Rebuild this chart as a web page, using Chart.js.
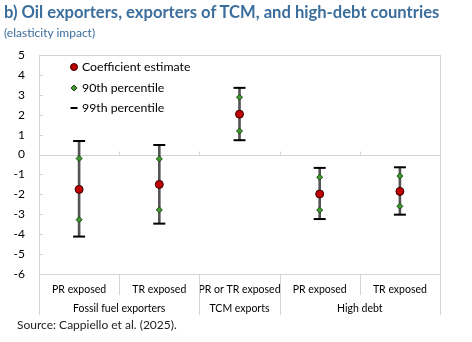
<!DOCTYPE html>
<html>
<head>
<meta charset="utf-8">
<script src="https://cdn.jsdelivr.net/npm/chart.js@4.4.1/dist/chart.umd.min.js"></script>
<style>
  body { margin: 0; background: #fff; font-family: Lato, 'Open Sans', sans-serif; }
  #wrap { position: relative; width: 472px; height: 342px; }
  #title { position: absolute; left: 4px; top: 2px; font-size: 16.6px; font-weight: bold; color: #3b6e9c; white-space: nowrap; }
  #subtitle { position: absolute; left: 4px; top: 25px; font-size: 12px; color: #3b6e9c; }
  #source { position: absolute; left: 17px; top: 317px; font-size: 12px; color: #222; }
</style>
</head>
<body>
<div id="wrap">
  <canvas id="chart"></canvas>
  <div id="title">b) Oil exporters, exporters of TCM, and high-debt countries</div>
  <div id="subtitle">(elasticity impact)</div>
  <div id="source">Source: Cappiello et al. (2025).</div>
</div>
<script>
// Categories and their groups
const categories = ['PR exposed', 'TR exposed', 'PR or TR exposed', 'PR exposed', 'TR exposed'];
const groupLabels = ['Fossil fuel exporters', 'TCM exports', 'High debt'];
const groupSizes = [2, 1, 2];

// Estimates with 90th and 99th percentile bands
const coefficient = [-1.75, -1.5, 2.03, -1.98, -1.85];
const p90Low = [-3.27, -2.78, 1.18, -2.79, -2.6];
const p90High = [-0.2, -0.22, 2.88, -1.14, -1.08];
const p99Low = [-4.12, -3.47, 0.72, -3.24, -3.02];
const p99High = [0.68, 0.48, 3.35, -0.67, -0.64];

const yTicks = [-6, -5, -4, -3, -2, -1, 0, 1, 2, 3, 4, 5];

const FONT = 'Lato, "Open Sans", sans-serif';
const frameColor = '#d4d4d4';

// Draws the frame, zero line, group labels and legend
const decorations = {
    id: 'decorations',
    beforeDatasetsDraw(chart) {
        const { ctx, chartArea: a, scales: { x, y } } = chart;
        ctx.save();
        ctx.strokeStyle = frameColor;
        ctx.lineWidth = 1;
        // plot frame
        ctx.strokeRect(a.left + 0.5, a.top + 0.5, a.right - a.left, a.bottom - a.top);
        // zero line
        const y0 = Math.round(y.getPixelForValue(0)) + 0.5;
        ctx.beginPath();
        ctx.moveTo(a.left, y0);
        ctx.lineTo(a.right, y0);
        ctx.stroke();
        // y tick marks, pointing inwards
        yTicks.forEach(v => {
            const py = Math.round(y.getPixelForValue(v)) + 0.5;
            ctx.beginPath();
            ctx.moveTo(a.left, py);
            ctx.lineTo(a.left + 4, py);
            ctx.stroke();
        });
        // category boundaries on the zero line
        const step = (a.right - a.left) / categories.length;
        for (let i = 1; i < categories.length; i++) {
            const px = Math.round(a.left + step * i) + 0.5;
            ctx.beginPath();
            ctx.moveTo(px, y0);
            ctx.lineTo(px, y0 - 4);
            ctx.stroke();
        }
        // separators below the plot
        let idx = 0;
        const bounds = [0];
        groupSizes.forEach(n => { idx += n; bounds.push(idx); });
        for (let i = 0; i <= categories.length; i++) {
            const px = Math.round(a.left + step * i) + 0.5;
            const full = bounds.includes(i);
            ctx.beginPath();
            ctx.moveTo(px, a.bottom);
            ctx.lineTo(px, a.bottom + (full ? 41 : 21));
            ctx.stroke();
        }
        // group labels
        ctx.fillStyle = '#000';
        ctx.font = '10.5px ' + FONT;
        ctx.textAlign = 'center';
        ctx.textBaseline = 'middle';
        let start = 0;
        groupLabels.forEach((label, g) => {
            const cx = a.left + step * (start + groupSizes[g] / 2);
            ctx.fillText(label, cx, a.bottom + 35);
            start += groupSizes[g];
        });
        ctx.restore();
    },
    afterDraw(chart) {
        const { ctx, chartArea: a } = chart;
        ctx.save();
        const lx = a.left + 35;
        const rows = [a.top + 12, a.top + 33, a.top + 53];
        // coefficient marker
        ctx.fillStyle = '#c00000';
        ctx.strokeStyle = '#3a0000';
        ctx.lineWidth = 1;
        ctx.beginPath();
        ctx.arc(lx, rows[0], 3.5, 0, Math.PI * 2);
        ctx.fill();
        ctx.stroke();
        // 90th percentile marker
        ctx.fillStyle = '#3f9b2f';
        ctx.strokeStyle = '#1d4a14';
        ctx.beginPath();
        ctx.moveTo(lx, rows[1] - 3);
        ctx.lineTo(lx + 3, rows[1]);
        ctx.lineTo(lx, rows[1] + 3);
        ctx.lineTo(lx - 3, rows[1]);
        ctx.closePath();
        ctx.fill();
        ctx.stroke();
        // 99th percentile marker
        ctx.strokeStyle = '#000';
        ctx.lineWidth = 2;
        ctx.beginPath();
        ctx.moveTo(lx - 3.5, rows[2]);
        ctx.lineTo(lx + 3.5, rows[2]);
        ctx.stroke();
        ctx.fillStyle = '#000';
        ctx.font = '12.3px ' + FONT;
        ctx.textBaseline = 'middle';
        ctx.fillText('Coefficient estimate', lx + 8, rows[0]);
        ctx.fillText('90th percentile', lx + 8, rows[1]);
        ctx.fillText('99th percentile', lx + 8, rows[2]);
        ctx.restore();
    }
};

const range99 = categories.map((c, i) => [p99Low[i], p99High[i]]);

const ctx = document.getElementById('chart').getContext('2d');
const chart = new Chart(ctx, {
    type: 'bar',
    data: {
        labels: categories,
        datasets: [
            {
                label: 'range',
                data: range99,
                backgroundColor: '#555555',
                barThickness: 2,
                order: 4,
            },
            {
                type: 'line',
                label: '99th percentile',
                data: p99Low,
                showLine: false,
                pointStyle: 'line',
                pointRadius: 6,
                pointBorderWidth: 2,
                pointBorderColor: '#000',
                order: 3,
            },
            {
                type: 'line',
                label: '99th percentile high',
                data: p99High,
                showLine: false,
                pointStyle: 'line',
                pointRadius: 6,
                pointBorderWidth: 2,
                pointBorderColor: '#000',
                order: 3,
            },
            {
                type: 'line',
                label: '90th percentile',
                data: p90Low,
                showLine: false,
                pointStyle: 'rectRot',
                pointRadius: 3,
                pointBorderWidth: 1,
                pointBackgroundColor: '#3f9b2f',
                pointBorderColor: '#1d4a14',
                order: 2,
            },
            {
                type: 'line',
                label: '90th percentile high',
                data: p90High,
                showLine: false,
                pointStyle: 'rectRot',
                pointRadius: 3,
                pointBorderWidth: 1,
                pointBackgroundColor: '#3f9b2f',
                pointBorderColor: '#1d4a14',
                order: 2,
            },
            {
                type: 'line',
                label: 'Coefficient estimate',
                data: coefficient,
                showLine: false,
                pointStyle: 'circle',
                pointRadius: 4,
                pointBorderWidth: 1,
                pointBackgroundColor: '#c00000',
                pointBorderColor: '#3a0000',
                order: 1,
            },
        ],
    },
    options: {
        responsive: true,
        maintainAspectRatio: false,
        animation: false,
        layout: { padding: { top: 55, right: 32, left: 0, bottom: 0 } },
        plugins: {
            legend: { display: false },
            tooltip: { enabled: false },
        },
        scales: {
            x: {
                grid: { display: false, drawTicks: false },
                border: { display: false },
                ticks: { color: '#000', font: { family: FONT, size: 10.5 }, padding: 9, maxRotation: 0, autoSkip: false },
                afterFit(scale) { scale.height = 68; },
            },
            y: {
                min: -6,
                max: 5,
                grid: { display: false, drawTicks: false },
                border: { display: false },
                ticks: { stepSize: 1, color: '#000', font: { family: FONT, size: 12 }, padding: 14 },
                afterFit(scale) { scale.width = 39; },
            },
        },
    },
    plugins: [decorations],
});
</script>
</body>
</html>
